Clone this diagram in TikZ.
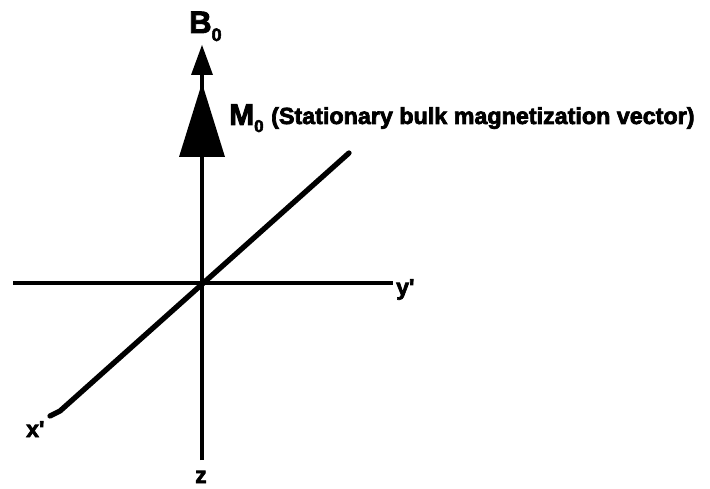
\documentclass[tikz,border=0pt]{standalone}
\usepackage{fontspec}
\newfontfamily\heavy{Liberation Sans}[BoldFeatures={FakeBold=3}]
\begin{document}
\begin{tikzpicture}[x=1pt,y=-1pt,
  axis/.style={line width=4.8pt, black},
  headfill/.style={fill=black},
  lbl/.style={inner sep=0pt, font=\heavy\bfseries}]
\useasboundingbox (0,0) rectangle (710,489);
\coordinate (O) at (202,283);
\coordinate (ybeg) at (13,283);
\coordinate (yend) at (393,283);
\coordinate (zend) at (202,460);
\coordinate (btip) at (202,45);
\coordinate (bbase) at (202,75);
\coordinate (mtip) at (202,83);
\coordinate (xend) at (50,416);
\coordinate (xbend) at (60,411);
\coordinate (xtop) at (349,153);
% axes
\draw[axis] (ybeg) -- (yend);
\draw[axis] (zend) -- (bbase);
\draw[axis, line width=5.3pt, line cap=round] (xend) -- (xbend) -- (xtop);
% arrow heads
\fill[headfill] (btip) -- (191,75) -- (213,75) -- cycle;
\fill[headfill] (mtip) -- (179,157) -- (225,157) -- cycle;
% labels
\node[lbl, anchor=base west] (B0) at (189,33) {\fontsize{31}{31}\selectfont B\raisebox{-8pt}{\fontsize{18}{18}\selectfont 0}};
\node[lbl, anchor=base west] (M0) at (229,125) {\fontsize{30}{30}\selectfont M\raisebox{-7pt}{\fontsize{17}{17}\selectfont 0}};
\node[lbl, anchor=base west] (desc) at (271,124) {\fontsize{23.3}{23.3}\selectfont (Stationary bulk magnetization vector)};
\node[lbl, anchor=base west] (yl) at (396,295) {\fontsize{23}{23}\selectfont y'};
\node[lbl, anchor=base west] (xl) at (26,437) {\fontsize{23}{23}\selectfont x'};
\node[lbl, anchor=base west] (zl) at (195,483) {\fontsize{23}{23}\selectfont z};
\end{tikzpicture}
\end{document}
